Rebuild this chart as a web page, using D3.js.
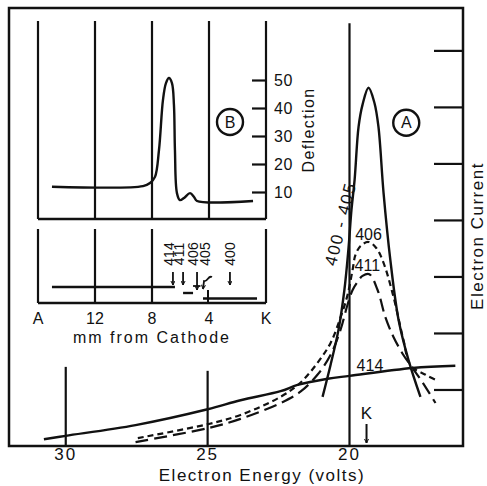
<!DOCTYPE html>
<html>
<head>
<meta charset="utf-8">
<script src="https://cdn.jsdelivr.net/npm/d3@7"></script>
<style>
body { margin: 0; background: #fff; }
text { font-family: "Liberation Sans", Arial, sans-serif; fill: #111; }
</style>
</head>
<body>
<div id="chart"></div>
<script>
// ---- main plot (A): electron current vs electron energy, volts ----
var voltTicks = [30, 25, 20];
var currentTicks = [1, 2, 3, 4, 5, 6, 7];

// [volts, current]
var curve400 = [[20.95,0.87],[20.67,1.43],[20.39,2.05],[20.18,2.76],[20.04,3.47],[19.93,4.18],
    [19.82,4.71],[19.68,5.65],[19.54,6.04],[19.33,6.34],[19.12,6.07],[18.98,5.65],[18.80,4.48],
    [18.56,3.29],[18.27,2.23],[17.92,1.52],[17.50,0.87]];
var curve406 = [[27.46,0.14],[24.96,0.39],[23.84,0.55],[22.43,0.87],[21.73,1.12],[21.13,1.47],
    [20.67,1.82],[20.32,2.27],[20.07,2.67],[19.89,3.12],[19.79,3.38],[19.61,3.54],[19.33,3.61],
    [19.05,3.50],[18.80,3.24],[18.45,2.64],[18.10,1.88],[17.85,1.43],[17.32,1.26],[16.87,1.15]];
var curve411 = [[27.54,0.07],[24.96,0.32],[23.84,0.48],[22.43,0.76],[21.73,0.96],[21.13,1.26],
    [20.67,1.61],[20.32,2.05],[20.07,2.50],[19.89,2.76],[19.72,2.90],[19.54,3.01],[19.30,3.04],
    [19.01,2.76],[18.73,2.27],[18.45,1.93],[18.10,1.61],[17.85,1.43],[17.43,1.13],[16.97,0.76]];
var curve414 = [[30.77,0.12],[30,0.18],[27.54,0.37],[25,0.65],[23.84,0.81],[22.43,0.97],
    [21.83,1.08],[20.77,1.19],[20,1.24],[17.78,1.38],[16.27,1.42]];
var cathodeVolt = 19.4;

// ---- inset (B): deflection vs mm from cathode ----
var mmTicks = [16, 12, 8, 4, 0];
var mmTickLabels = ["A", "12", "8", "4", "K"];
var deflTicks = [10, 20, 30, 40, 50];
// [mm, deflection]
var deflCurve = [[15.02,11.9],[8.63,12.1],[8.14,13.2],[7.79,15.4],[7.51,25],[7.23,42.9],[7.02,48.9],
    [6.81,50.7],[6.60,48.9],[6.46,41.1],[6.39,25],[6.25,9.6],[6.04,7.1],[5.75,7.9],[5.33,9.6],
    [5.05,8.2],[4.84,6.8],[0.91,6.8]];
// ranges in mm for the lower strip
var rangeFrom = [15.02, 5.82, 4.42];
var rangeTo = [6.39, 5.12, 0.63];
var runLabels = ["414", "411", "406", "405", "400"];
var runLabelMM = [6.81, 6.11, 5.12, 4.28, 2.53];
var runArrowMM = [6.53, 5.82, 4.84, 4.42, 2.53];

var width = 487, height = 486;

var svg = d3.select("#chart")
    .append("svg")
    .attr("width", width)
    .attr("height", height);

svg.append("defs").append("marker")
    .attr("id", "head")
    .attr("viewBox", "0 0 10 10")
    .attr("refX", 9).attr("refY", 5)
    .attr("markerWidth", 5).attr("markerHeight", 5)
    .attr("markerUnits", "userSpaceOnUse")
    .attr("orient", "auto")
    .append("path")
    .attr("d", "M1,1 L9,5 L1,9")
    .attr("fill", "none").attr("stroke", "#111").attr("stroke-width", 2);

var ink = "#111";

// scales
var x = d3.scaleLinear().domain([32, 16]).range([9, 463]);
var y = d3.scaleLinear().domain([0, 7.75]).range([446, 8]);

// frame
svg.append("rect")
    .attr("x", 9).attr("y", 8).attr("width", 454).attr("height", 438)
    .attr("fill", "none").attr("stroke", ink).attr("stroke-width", 2.5);

// vertical lines at 30, 25, 20
var gridTop = [1.4, 1.33, 7.48];
svg.selectAll(".vgrid")
    .data(voltTicks)
    .enter()
    .append("line")
    .attr("x1", function (d) { return x(d); })
    .attr("x2", function (d) { return x(d); })
    .attr("y1", function (d, i) { return y(gridTop[i]); })
    .attr("y2", y(0))
    .attr("stroke", ink).attr("stroke-width", 2.2);

svg.selectAll(".xlab")
    .data(voltTicks)
    .enter()
    .append("text")
    .attr("x", function (d) { return x(d); })
    .attr("y", 460)
    .attr("text-anchor", "middle")
    .attr("font-size", 17)
    .attr("letter-spacing", 2)
    .text(function (d) { return d; });

svg.append("text")
    .attr("x", 262).attr("y", 481)
    .attr("text-anchor", "middle")
    .attr("font-size", 17)
    .attr("letter-spacing", 1.5)
    .text("Electron Energy (volts)");

// right side ticks (pointing in)
var yAxis = svg.append("g")
    .attr("transform", "translate(463,0)")
    .call(d3.axisLeft(y).tickValues(currentTicks).tickSize(29).tickFormat(""));
yAxis.select(".domain").remove();
yAxis.selectAll("line").attr("stroke", ink).attr("stroke-width", 2.2);

svg.append("text")
    .attr("transform", "translate(483,236) rotate(-90)")
    .attr("text-anchor", "middle")
    .attr("font-size", 17)
    .attr("letter-spacing", 1.5)
    .text("Electron Current");

// curves
var line = d3.line()
    .x(function (d) { return x(d[0]); })
    .y(function (d) { return y(d[1]); })
    .curve(d3.curveCatmullRom.alpha(0.5));

svg.append("path").datum(curve414).attr("d", line)
    .attr("fill", "none").attr("stroke", ink).attr("stroke-width", 2.4);
svg.append("path").datum(curve400).attr("d", line)
    .attr("fill", "none").attr("stroke", ink).attr("stroke-width", 2.4);
svg.append("path").datum(curve406).attr("d", line)
    .attr("fill", "none").attr("stroke", ink).attr("stroke-width", 2.2)
    .attr("stroke-dasharray", "6,4");
svg.append("path").datum(curve411).attr("d", line)
    .attr("fill", "none").attr("stroke", ink).attr("stroke-width", 2.2)
    .attr("stroke-dasharray", "13,6");

// curve labels
svg.append("text")
    .attr("transform", "translate(" + x(20.32) + "," + y(3.93) + ") rotate(-76)")
    .attr("text-anchor", "middle").attr("dy", "0.35em")
    .attr("font-size", 17).attr("letter-spacing", 1.5)
    .text("400 - 405");
svg.append("text").attr("x", x(19.33)).attr("y", y(3.75)).attr("dy", "0.35em")
    .attr("text-anchor", "middle").attr("font-size", 16).text("406");
svg.append("text").attr("x", x(19.37)).attr("y", y(3.2)).attr("dy", "0.35em")
    .attr("text-anchor", "middle").attr("font-size", 16).text("411");
svg.append("text").attr("x", x(19.28)).attr("y", y(1.43)).attr("dy", "0.35em")
    .attr("text-anchor", "middle").attr("font-size", 16).text("414");

// K arrow
svg.append("text").attr("x", x(cathodeVolt)).attr("y", 419)
    .attr("text-anchor", "middle").attr("font-size", 17).text("K");
svg.append("line")
    .attr("x1", x(cathodeVolt)).attr("x2", x(cathodeVolt))
    .attr("y1", 424).attr("y2", 443)
    .attr("stroke", ink).attr("stroke-width", 2)
    .attr("marker-end", "url(#head)");

// circled letters
function circled(cx, cy, letter) {
    svg.append("circle").attr("cx", cx).attr("cy", cy).attr("r", 13)
        .attr("fill", "none").attr("stroke", ink).attr("stroke-width", 2.4);
    svg.append("text").attr("x", cx).attr("y", cy).attr("dy", "0.36em")
        .attr("text-anchor", "middle").attr("font-size", 16).text(letter);
}
circled(x(18.0), y(5.72), "A");

// ---- inset B ----
var bx = d3.scaleLinear().domain([16, 0]).range([38, 266]);
var by = d3.scaleLinear().domain([0, 50]).range([220, 80]);
var upTop = 21, upBot = 219, lowTop = 229, lowBot = 303;

circled(230, 122, "B");

// upper panel vertical lines and axes
svg.selectAll(".bgrid")
    .data(mmTicks)
    .enter()
    .append("line")
    .attr("x1", function (d) { return bx(d); })
    .attr("x2", function (d) { return bx(d); })
    .attr("y1", upTop).attr("y2", upBot)
    .attr("stroke", ink).attr("stroke-width", 2.2);
svg.append("line").attr("x1", bx(16)).attr("x2", bx(0)).attr("y1", upBot).attr("y2", upBot)
    .attr("stroke", ink).attr("stroke-width", 2.4);

// lower panel
svg.selectAll(".bgrid2")
    .data([16, 12, 8, 0])
    .enter()
    .append("line")
    .attr("x1", function (d) { return bx(d); })
    .attr("x2", function (d) { return bx(d); })
    .attr("y1", lowTop).attr("y2", lowBot)
    .attr("stroke", ink).attr("stroke-width", 2.2);
svg.append("line").attr("x1", bx(16)).attr("x2", bx(0)).attr("y1", lowBot).attr("y2", lowBot)
    .attr("stroke", ink).attr("stroke-width", 2.4);

// deflection ticks + labels
var dAxis = svg.append("g")
    .attr("transform", "translate(" + bx(0) + ",0)")
    .call(d3.axisLeft(by).tickValues(deflTicks).tickSize(14).tickFormat(""));
dAxis.select(".domain").remove();
dAxis.selectAll("line").attr("stroke", ink).attr("stroke-width", 2.2);

svg.selectAll(".dlab")
    .data(deflTicks)
    .enter()
    .append("text")
    .attr("x", bx(0) + 8)
    .attr("y", function (d) { return by(d); })
    .attr("dy", "0.36em")
    .attr("font-size", 16)
    .attr("letter-spacing", 0.5)
    .text(function (d) { return d; });

svg.append("text")
    .attr("transform", "translate(314,130) rotate(-90)")
    .attr("text-anchor", "middle")
    .attr("font-size", 16)
    .attr("letter-spacing", 1.4)
    .text("Deflection");

svg.selectAll(".mmlab")
    .data(mmTicks)
    .enter()
    .append("text")
    .attr("x", function (d) { return bx(d); })
    .attr("y", 324)
    .attr("text-anchor", "middle")
    .attr("font-size", 16)
    .text(function (d, i) { return mmTickLabels[i]; });

svg.append("text")
    .attr("x", 152).attr("y", 343)
    .attr("text-anchor", "middle")
    .attr("font-size", 16)
    .attr("letter-spacing", 2)
    .text("mm from Cathode");

var bline = d3.line()
    .x(function (d) { return bx(d[0]); })
    .y(function (d) { return by(d[1]); })
    .curve(d3.curveCatmullRom.alpha(0.5));
svg.append("path").datum(deflCurve).attr("d", bline)
    .attr("fill", "none").attr("stroke", ink).attr("stroke-width", 2.4);

// range strip
var rowY = [287, 293, 298.5];
svg.selectAll(".range")
    .data(rangeFrom)
    .enter()
    .append("line")
    .attr("x1", function (d) { return bx(d); })
    .attr("x2", function (d, i) { return bx(rangeTo[i]); })
    .attr("y1", function (d, i) { return rowY[i]; })
    .attr("y2", function (d, i) { return rowY[i]; })
    .attr("stroke", ink).attr("stroke-width", 2.4);
svg.append("line").attr("x1", bx(4.07)).attr("x2", bx(4.07)).attr("y1", 290).attr("y2", 303)
    .attr("stroke", ink).attr("stroke-width", 2);
svg.append("line").attr("x1", bx(5.12)).attr("x2", bx(4.6)).attr("y1", 286).attr("y2", 286)
    .attr("stroke", ink).attr("stroke-width", 1.8);

svg.selectAll(".runlab")
    .data(runLabels)
    .enter()
    .append("text")
    .attr("transform", function (d, i) {
        return "translate(" + bx(runLabelMM[i]) + ",254) rotate(-90)";
    })
    .attr("text-anchor", "middle")
    .attr("dy", "0.36em")
    .attr("font-size", 14)
    .text(function (d) { return d; });

svg.selectAll(".runarrow")
    .data(runArrowMM)
    .enter()
    .append("path")
    .attr("d", function (d, i) {
        var ax = bx(d);
        if (runLabels[i] === "405") {
            return "M" + (ax + 9) + ",277 C" + (ax + 5) + ",275 " + (ax + 5) + ",282 " + (ax + 1) + ",281 L" + ax + ",289";
        }
        var yEnd = runLabels[i] === "406" ? 290 : 285;
        return "M" + ax + ",272 L" + ax + "," + yEnd;
    })
    .attr("fill", "none").attr("stroke", ink).attr("stroke-width", 1.8)
    .attr("marker-end", "url(#head)");
</script>
</body>
</html>
